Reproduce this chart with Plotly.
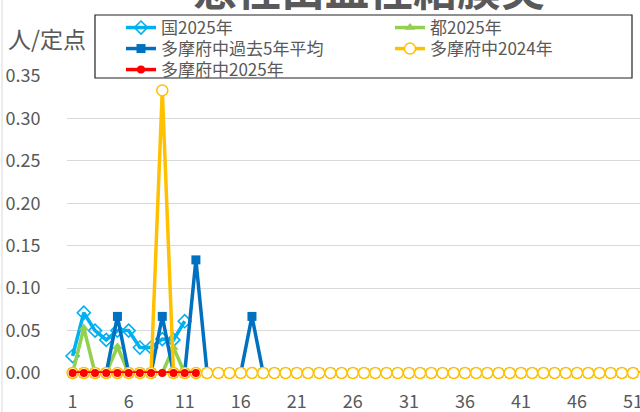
import plotly.graph_objects as go

weeks = list(range(1, 53))
zen_2025 = [0.02, 0.071, 0.05, 0.039, 0.05, 0.05, 0.03, 0.03, 0.04, 0.039, 0.061]
to_2025 = [0, 0.053, 0, 0, 0.031, 0, 0, 0, 0, 0.03, 0]
tama_past5 = [0, 0, 0, 0, 0.0667, 0, 0, 0, 0.0667, 0, 0, 0.1333, 0, 0, 0, 0, 0.0667] + [0] * 35
tama_2024 = [0, 0, 0, 0, 0, 0, 0, 0, 0.333] + [0] * 43
tama_2025 = [0] * 12

names = ["国2025年", "都2025年", "多摩府中過去5年平均", "多摩府中2024年", "多摩府中2025年"]
title_text = "急性出血性結膜炎"
ytitle = "人/定点"
xtickvals = list(range(1, 52, 5))

FONT = "Noto Sans CJK JP"
GRAY = "#595959"

L, T, B = 67, 76, 39
W, H = 640, 412
pw, ph = W - L, H - T - B

def px(x):
    return (x - L) / pw

def py(y):
    return (H - B - y) / ph

fig = go.Figure()
fig.add_trace(go.Scatter(x=weeks[:len(zen_2025)], y=zen_2025, name=names[0], mode="lines+markers",
                         line=dict(color="#00B0F0", width=3.5), legend="legend",
                         marker=dict(symbol="diamond-open", size=10, color="#00B0F0", line=dict(width=1.6)),
                         cliponaxis=False))
fig.add_trace(go.Scatter(x=weeks[:len(to_2025)], y=to_2025, name=names[1], mode="lines+markers",
                         line=dict(color="#92D050", width=3.5), legend="legend2",
                         marker=dict(symbol="triangle-up", size=9, color="#92D050"),
                         cliponaxis=False))
fig.add_trace(go.Scatter(x=weeks[:len(tama_past5)], y=tama_past5, name=names[2], mode="lines+markers",
                         line=dict(color="#0070C0", width=3.5), legend="legend3",
                         marker=dict(symbol="square", size=9, color="#0070C0"),
                         cliponaxis=False))
fig.add_trace(go.Scatter(x=weeks[:len(tama_2024)], y=tama_2024, name=names[3], mode="lines+markers",
                         line=dict(color="#FFC000", width=3.5), legend="legend4",
                         marker=dict(symbol="circle", size=11, color="white", line=dict(color="#FFC000", width=1.5)),
                         cliponaxis=False))
fig.add_trace(go.Scatter(x=weeks[:len(tama_2025)], y=tama_2025, name=names[4], mode="lines+markers",
                         line=dict(color="#FF0000", width=3.5), legend="legend5",
                         marker=dict(symbol="circle", size=8, color="#FF0000"),
                         cliponaxis=False))

def leg(xp, yp):
    return dict(x=px(xp), y=py(yp), xanchor="left", yanchor="middle",
                bgcolor="rgba(0,0,0,0)", borderwidth=0,
                font=dict(family=FONT, size=17, color=GRAY))

fig.update_layout(
    width=W, height=H, autosize=False,
    margin=dict(l=L, r=0, t=T, b=B, pad=0),
    paper_bgcolor="white", plot_bgcolor="white",
    font=dict(family=FONT, color=GRAY, size=17),
    showlegend=True,
    legend=leg(121, 28),
    legend2=leg(390, 28),
    legend3=leg(121, 49),
    legend4=leg(390, 49),
    legend5=leg(121, 70),
    xaxis=dict(range=[0.5, 51.62], tickmode="array", tickvals=xtickvals, automargin=False,
               showgrid=False, zeroline=False, showline=False, ticklabeloverflow="allow",
               ticks="outside", ticklen=12, tickcolor="rgba(0,0,0,0)",
               tickfont=dict(size=18, color=GRAY, family=FONT)),
    yaxis=dict(range=[0, 0.35], dtick=0.05, tickformat=".2f", automargin=False,
               showgrid=True, gridcolor="#D9D9D9", gridwidth=1.3,
               zeroline=False, showline=False,
               ticks="outside", ticklen=22, tickcolor="rgba(0,0,0,0)",
               tickfont=dict(size=18, color=GRAY, family=FONT)),
)

fig.add_annotation(text=title_text, xref="paper", yref="paper", x=px(369), y=py(-13),
                   xanchor="center", yanchor="middle", showarrow=False,
                   font=dict(family=FONT, size=44, color=GRAY, weight="bold"))
fig.add_annotation(text=ytitle, xref="paper", yref="paper", x=px(47), y=py(38),
                   xanchor="center", yanchor="middle", showarrow=False,
                   font=dict(family=FONT, size=23, color=GRAY))

# legend frame
fig.add_shape(type="rect", xref="paper", yref="paper", x0=px(95), x1=px(632), y0=py(15), y1=py(78),
              line=dict(color="#222222", width=1.2), fillcolor="white", layer="below")
# chart-area border on the left
fig.add_shape(type="line", xref="paper", yref="paper", x0=px(2), x1=px(2), y0=py(0), y1=py(412),
              line=dict(color="#D9D9D9", width=1))

fig.write_html("out.html", config={"displayModeBar": False},
               post_script="document.body.style.margin='0';")
